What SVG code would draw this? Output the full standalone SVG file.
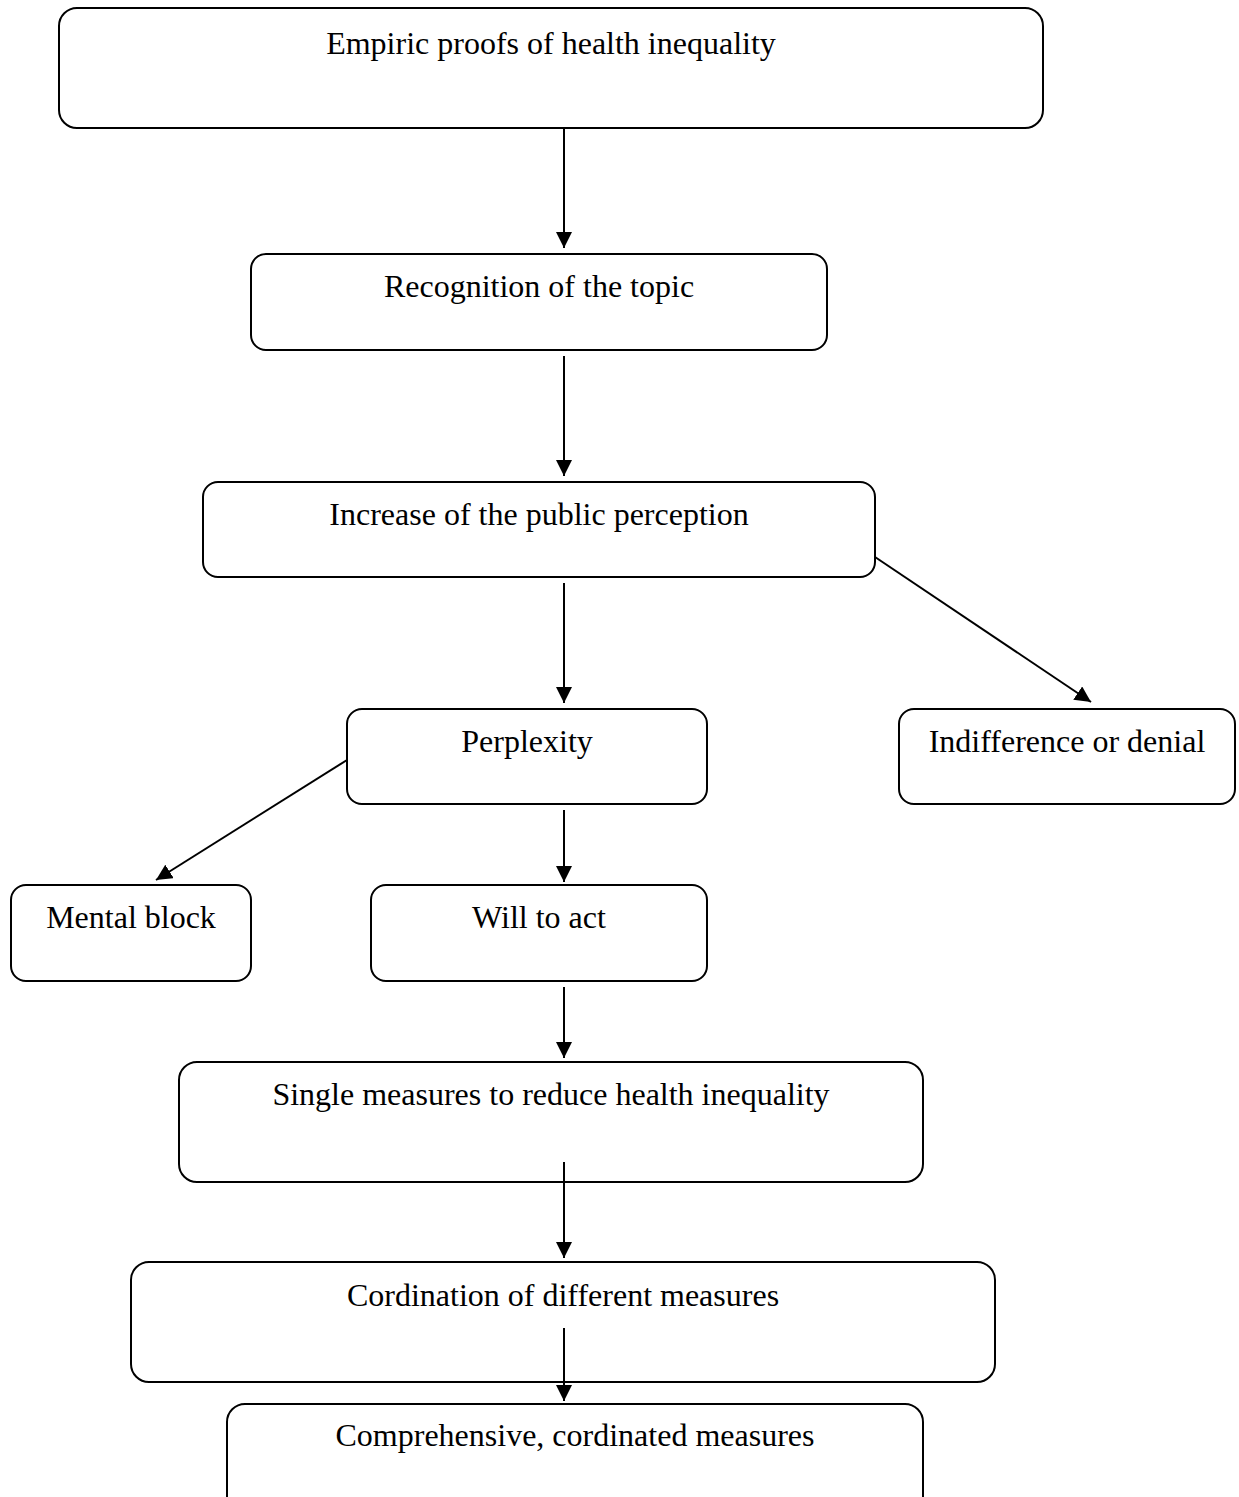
<svg xmlns="http://www.w3.org/2000/svg" width="1239" height="1497" viewBox="0 0 1239 1497">
<style>
.box{fill:#fff;stroke:#000;stroke-width:2}
.t{font-family:"Liberation Serif","Times New Roman",serif;font-size:32px;fill:#000;text-anchor:middle}
.c{stroke:#000;stroke-width:2;fill:none;marker-end:url(#ah)}
</style>
<defs>
<marker id="ah" viewBox="0 0 16 16" refX="16" refY="8" markerWidth="16" markerHeight="16" markerUnits="userSpaceOnUse" orient="auto">
<path d="M0,0 L16,8 L0,16 Z" fill="#000"/>
</marker>
</defs>
<rect width="1239" height="1497" fill="#fff"/>
<g id="n1"><rect class="box" x="59" y="8" width="984" height="120" rx="18"/><text class="t" x="551" y="54">Empiric proofs of health inequality</text></g>
<g id="n2"><rect class="box" x="251" y="254" width="576" height="96" rx="15"/><text class="t" x="539" y="297">Recognition of the topic</text></g>
<g id="n3"><rect class="box" x="203" y="482" width="672" height="95" rx="15"/><text class="t" x="539" y="525">Increase of the public perception</text></g>
<g id="n4"><rect class="box" x="347" y="709" width="360" height="95" rx="15"/><text class="t" x="527" y="752">Perplexity</text></g>
<g id="n5"><rect class="box" x="899" y="709" width="336" height="95" rx="15"/><text class="t" x="1067" y="752">Indifference or denial</text></g>
<g id="n6"><rect class="box" x="11" y="885" width="240" height="96" rx="15"/><text class="t" x="131" y="928">Mental block</text></g>
<g id="n7"><rect class="box" x="371" y="885" width="336" height="96" rx="15"/><text class="t" x="539" y="928">Will to act</text></g>
<g id="n8"><rect class="box" x="179" y="1062" width="744" height="120" rx="18"/><text class="t" x="551" y="1105">Single measures to reduce health inequality</text></g>
<g id="n9"><rect class="box" x="131" y="1262" width="864" height="120" rx="18"/><text class="t" x="563" y="1306">Cordination of different measures</text></g>
<g id="n10"><rect class="box" x="227" y="1404" width="696" height="110" rx="18"/><text class="t" x="575" y="1446">Comprehensive, cordinated measures</text></g>
<g id="connectors">
<line class="c" x1="564" y1="128" x2="564" y2="248"/>
<line class="c" x1="564" y1="356" x2="564" y2="476"/>
<line class="c" x1="564" y1="583" x2="564" y2="703"/>
<line class="c" x1="875" y1="557" x2="1091" y2="702"/>
<line class="c" x1="347" y1="760" x2="156" y2="880"/>
<line class="c" x1="564" y1="810" x2="564" y2="882"/>
<line class="c" x1="564" y1="987" x2="564" y2="1058"/>
<line class="c" x1="564" y1="1162" x2="564" y2="1258"/>
<line class="c" x1="564" y1="1328" x2="564" y2="1401"/>
</g>
</svg>
